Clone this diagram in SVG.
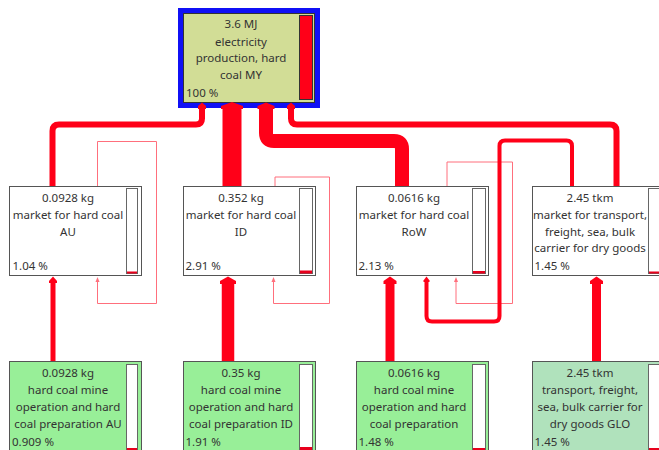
<svg xmlns="http://www.w3.org/2000/svg" width="659" height="450" viewBox="0 0 659 450">
<style>
.box{stroke:#555;stroke-width:1}
.mkt{fill:#fff}
.mine{fill:#98ef98}
.glo{fill:#b0e2bc}
.bar{fill:#fff;stroke:#666;stroke-width:1}
.lvl{fill:#e8001c}
.t{font-family:"Noto Sans","Open Sans","DejaVu Sans",sans-serif;font-size:11.5px;fill:#333;text-anchor:middle}
.p{text-anchor:start}
.ln{fill:none;stroke:#ff0018;stroke-linejoin:round}
.loop{fill:none;stroke:#ff6f7c;stroke-width:1}
.hd{fill:#ff0018}
.hdl{fill:#ff6f7c}
</style>
<rect width="659" height="450" fill="#fff"/>

<g id="node-top">
<rect x="178" y="8" width="142" height="100" fill="#1010f5"/>
<rect x="183.5" y="13.5" width="131" height="89" fill="#d2dd96" stroke="#333" stroke-width="1"/>
<rect x="299.5" y="15.5" width="13" height="84" fill="#ff0018" stroke="#333" stroke-width="1"/>
<text class="t" x="241" y="28">3.6 MJ</text>
<text class="t" x="241" y="45.5">electricity</text>
<text class="t" x="241" y="62">production, hard</text>
<text class="t" x="241" y="79">coal MY</text>
<text class="t p" x="186" y="97">100 %</text>
</g>

<g id="node-market-au">
<rect class="box mkt" x="9.5" y="186.5" width="132" height="89"/>
<rect class="bar" x="126.5" y="188.5" width="11" height="85"/>
<rect class="lvl" x="127" y="271.5" width="10" height="2"/>
<text class="t" x="68" y="202">0.0928 kg</text>
<text class="t" x="68" y="219">market for hard coal</text>
<text class="t" x="68" y="235.5">AU</text>
<text class="t p" x="12.5" y="270">1.04 %</text>
</g>

<g id="node-market-id">
<rect class="box mkt" x="183.5" y="186.5" width="132" height="89"/>
<rect class="bar" x="299.5" y="188.5" width="13" height="85"/>
<rect class="lvl" x="300" y="270.5" width="12" height="3"/>
<text class="t" x="241" y="202">0.352 kg</text>
<text class="t" x="241" y="219">market for hard coal</text>
<text class="t" x="241" y="235.5">ID</text>
<text class="t p" x="185.5" y="270">2.91 %</text>
</g>

<g id="node-market-row">
<rect class="box mkt" x="356.5" y="186.5" width="132" height="89"/>
<rect class="bar" x="472.5" y="188.5" width="13" height="85"/>
<rect class="lvl" x="473" y="271" width="12" height="2.5"/>
<text class="t" x="414" y="202">0.0616 kg</text>
<text class="t" x="414" y="219">market for hard coal</text>
<text class="t" x="414" y="235.5">RoW</text>
<text class="t p" x="358.5" y="270">2.13 %</text>
</g>

<g id="node-market-transport">
<rect class="box mkt" x="532.5" y="186.5" width="132" height="89"/>
<rect class="bar" x="648.5" y="188.5" width="13" height="85"/>
<rect class="lvl" x="649" y="271.5" width="12" height="2"/>
<text class="t" x="590" y="202">2.45 tkm</text>
<text class="t" x="590" y="219">market for transport,</text>
<text class="t" x="590" y="235.5">freight, sea, bulk</text>
<text class="t" x="590" y="252">carrier for dry goods</text>
<text class="t p" x="534.5" y="270">1.45 %</text>
</g>

<g id="node-mine-au">
<rect class="box mine" x="9.5" y="361.5" width="132" height="92"/>
<rect class="bar" x="126.5" y="364.5" width="11" height="86"/>
<rect class="lvl" x="127" y="448" width="10" height="2"/>
<text class="t" x="68" y="377">0.0928 kg</text>
<text class="t" x="68" y="394">hard coal mine</text>
<text class="t" x="68" y="411">operation and hard</text>
<text class="t" x="68" y="427.5">coal preparation AU</text>
<text class="t p" x="12" y="446">0.909 %</text>
</g>

<g id="node-mine-id">
<rect class="box mine" x="183.5" y="361.5" width="132" height="92"/>
<rect class="bar" x="299.5" y="364.5" width="13" height="86"/>
<rect class="lvl" x="300" y="447" width="12" height="3"/>
<text class="t" x="241" y="377">0.35 kg</text>
<text class="t" x="241" y="394">hard coal mine</text>
<text class="t" x="241" y="411">operation and hard</text>
<text class="t" x="241" y="427.5">coal preparation ID</text>
<text class="t p" x="185.5" y="446">1.91 %</text>
</g>

<g id="node-mine-row">
<rect class="box mine" x="356.5" y="361.5" width="132" height="92"/>
<rect class="bar" x="472.5" y="364.5" width="13" height="86"/>
<rect class="lvl" x="473" y="448" width="12" height="2"/>
<text class="t" x="414" y="377">0.0616 kg</text>
<text class="t" x="414" y="394">hard coal mine</text>
<text class="t" x="414" y="411">operation and hard</text>
<text class="t" x="414" y="427.5">coal preparation</text>
<text class="t p" x="358.5" y="446">1.48 %</text>
</g>

<g id="node-transport-glo">
<rect class="box glo" x="532.5" y="361.5" width="132" height="92"/>
<rect class="bar" x="648.5" y="364.5" width="13" height="86"/>
<rect class="lvl" x="649" y="448" width="12" height="2"/>
<text class="t" x="590" y="377">2.45 tkm</text>
<text class="t" x="590" y="394">transport, freight,</text>
<text class="t" x="590" y="411">sea, bulk carrier for</text>
<text class="t" x="590" y="427.5">dry goods GLO</text>
<text class="t p" x="534.5" y="446">1.45 %</text>
</g>

<g id="connectors">
<!-- self loops -->
<path class="loop" d="M97.5,186 V141.5 H156.5 V303.5 H97.5 V280"/>
<polygon class="hdl" points="95.5,282 97.5,277 99.5,282"/>
<path class="loop" d="M275,186 V177 H329.5 V303.5 H273.5 V280"/>
<polygon class="hdl" points="271.5,282 273.5,277 275.5,282"/>
<path class="loop" d="M447,186 V162 H512.5 V303.5 H456 V280"/>
<polygon class="hdl" points="454,282 456,277 458,282"/>

<!-- market links into top node -->
<path class="ln" stroke-width="6" d="M52.5,186 V131 Q52.5,124.5 59,124.5 H196 Q202,124.5 202,118.5 V108"/>
<polygon class="hd" points="198,109 198,106 202,102.5 206,106 206,109"/>
<path class="ln" stroke-width="19" d="M232,186 V108"/>
<polygon class="hd" points="221,109 221,106 232,102 243,106 243,109"/>
<path class="ln" stroke-width="14" d="M402,186 V149 Q402,141 394,141 H274 Q266,141 266,133 V108"/>
<polygon class="hd" points="257.5,109 257.5,106 266,102.5 274.5,106 274.5,109"/>
<path class="ln" stroke-width="6" d="M616.5,186 V131 Q616.5,124.5 610,124.5 H297 Q291,124.5 291,118.5 V108"/>
<polygon class="hd" points="287,109 287,106 291,102.5 295,106 295,109"/>

<!-- transport market into RoW market -->
<path class="ln" stroke-width="4" d="M572,186 V146 Q572,140.5 566.5,140.5 H505 Q499.5,140.5 499.5,146 V316 Q499.5,321.5 494,321.5 H432 Q426.5,321.5 426.5,316 V280"/>
<polygon class="hd" points="423.5,282 423.5,280.5 426.5,276.5 429.5,280.5 429.5,282"/>

<!-- producers into markets -->
<path class="ln" stroke-width="5" d="M53,361 V282"/>
<polygon class="hd" points="49,283 49,281 53,276.5 57,281 57,283"/>
<path class="ln" stroke-width="12.5" d="M228,361 V282"/>
<polygon class="hd" points="220,284 220,281 228,276.5 236,281 236,284"/>
<path class="ln" stroke-width="9" d="M390,361 V282"/>
<polygon class="hd" points="383.5,284 383.5,281 390,276.5 396.5,281 396.5,284"/>
<path class="ln" stroke-width="9" d="M596.5,361 V282"/>
<polygon class="hd" points="590,284 590,281 596.5,276.5 603,281 603,284"/>
</g>
</svg>
